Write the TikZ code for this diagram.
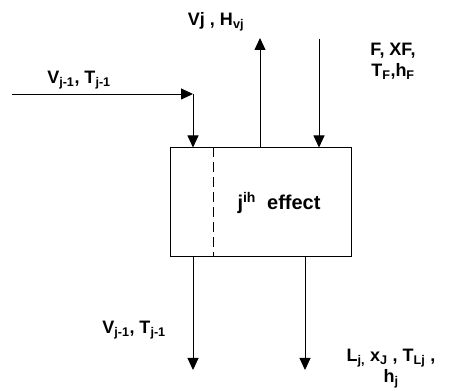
\documentclass[tikz,border=0pt]{standalone}
\usepackage{fontspec}
\setmainfont{Liberation Sans}
\usepackage{tikz}
\usetikzlibrary{arrows.meta, positioning}
\tikzstyle{effectbox} = [rectangle, minimum width=181pt, minimum height=109pt, draw=black, line width=1pt, inner sep=0pt]
\tikzstyle{lbl} = [font=\fontsize{18}{21}\selectfont\bfseries, align=center, inner sep=0pt]
\tikzstyle{arrow} = [line width=0.9pt, -{Triangle[width=11pt,length=12pt]}]

\begin{document}
\begin{tikzpicture}[x=1pt, y=1pt]
\useasboundingbox (0,0) rectangle (450,391);
\node (box) [effectbox] at (260.5,188.5) {};
\node (name) [lbl, font=\fontsize{20}{22}\selectfont\bfseries] at (279,188) {j\textsuperscript{ih}\ \ effect};

\coordinate (vin) at (12,297);
\coordinate (bend) at (193,297);
\coordinate (vtop) at (260,353);
\coordinate (ftop) at (319,352);
\coordinate (vbot) at (193,21);
\coordinate (lbot) at (305,21);

\node (lvin) [lbl] at (79,311) {V\textsubscript{j-1}, T\textsubscript{j-1}};
\node (lvout) [lbl] at (216,369) {Vj , H\textsubscript{vj}};
\node (lfeed) [lbl] at (393,330) {F, XF,\\T\textsubscript{F},h\textsubscript{F}};
\node (lvbot) [lbl] at (134,61) {V\textsubscript{j-1}, T\textsubscript{j-1}};
\node (lliq) [lbl] at (391,22) {L\textsubscript{j,} x\textsubscript{J} , T\textsubscript{Lj} ,\\h\textsubscript{j}};

\draw [line width=1pt, dash pattern=on 10pt off 5pt] (box.north west) ++(44,0) coordinate (dtop) -- (dtop |- box.south);
\draw [arrow] (vin) -- (bend);
\draw [arrow] (bend) -- (bend |- box.north);
\draw [arrow] (box.north -| vtop) -- (vtop);
\draw [arrow] (ftop) -- (ftop |- box.north);
\draw [arrow] (box.south -| vbot) -- (vbot);
\draw [arrow] (box.south -| lbot) -- (lbot);
\end{tikzpicture}
\end{document}
